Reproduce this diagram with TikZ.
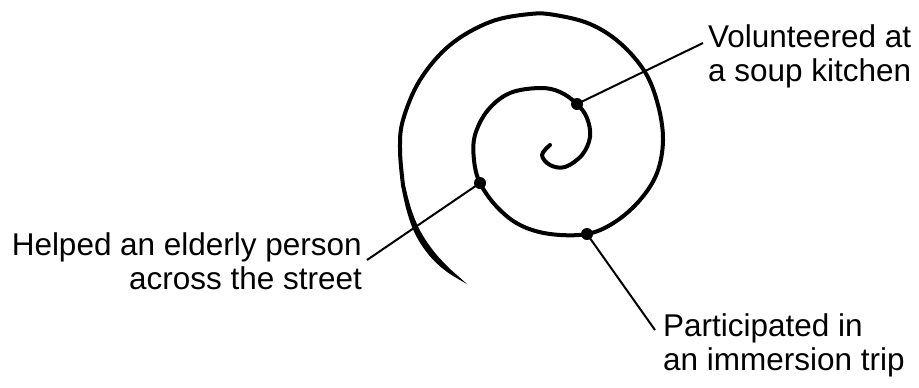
\documentclass[tikz,border=0pt]{standalone}
\usepackage{fontspec}
\setmainfont{Liberation Sans}
\begin{document}
\begin{tikzpicture}[x=1bp,y=-1bp,
  spiralline/.style={line width=4bp, line cap=round, line join=round},
  dotnode/.style={circle, fill=black, inner sep=0pt, minimum size=12bp},
  leader/.style={line width=2bp},
  lbl/.style={inner sep=0pt, font=\fontsize{31.6}{35}\selectfont}]
\useasboundingbox (0,0) rectangle (919,387);
\fill[white] (0,0) rectangle (919,387);
% spiral
\draw[spiralline] plot[smooth, tension=0.6] coordinates {
  (550,145) (542,155) (550,165) (565,167) (582,155) (590,137) (587,118)
  (577,104) (560,92) (540,88) (510,93) (488,110) (475,135) (474,160)
  (480,183) (497,207) (520,225) (550,234) (587,234) (615,222) (640,200)
  (657,173) (663,140) (658,105) (645,72) (620,43) (590,24) (555,15)
  (530,14) (490,22) (450,45) (420,80) (403,120) (400,150) (403,185)};
% tapered tail
\fill plot[smooth, tension=0.6] coordinates {(401,185) (406.7,210.7) (415.4,234.5) (429.7,256.0) (446.6,271.6) (467,284)}
  -- plot[smooth, tension=0.6] coordinates {(449.4,268.4) (434.3,252.0) (420.6,231.5) (411.3,209.3) (405,185)} -- cycle;
% dots
\node[dotnode] (d1) at (577,104) {};
\node[dotnode] (d2) at (480,183) {};
\node[dotnode] (d3) at (587,234) {};
% leader ends
\coordinate (e1) at (703,43);
\coordinate (e2) at (367,260);
\coordinate (e3) at (655,330);
\draw[leader] (d1.center) -- (e1);
\draw[leader] (d2.center) -- (e2);
\draw[leader] (d3.center) -- (e3);
% labels
\node[lbl, anchor=north west, align=left] (t1) at (708,24) {Volunteered at\\a soup kitchen};
\node[lbl, anchor=north east, align=right] (t2) at (362,232) {Helped an elderly person\\across the street};
\node[lbl, anchor=north west, align=left] (t3) at (663,313) {Participated in\\an immersion trip};
\end{tikzpicture}
\end{document}
